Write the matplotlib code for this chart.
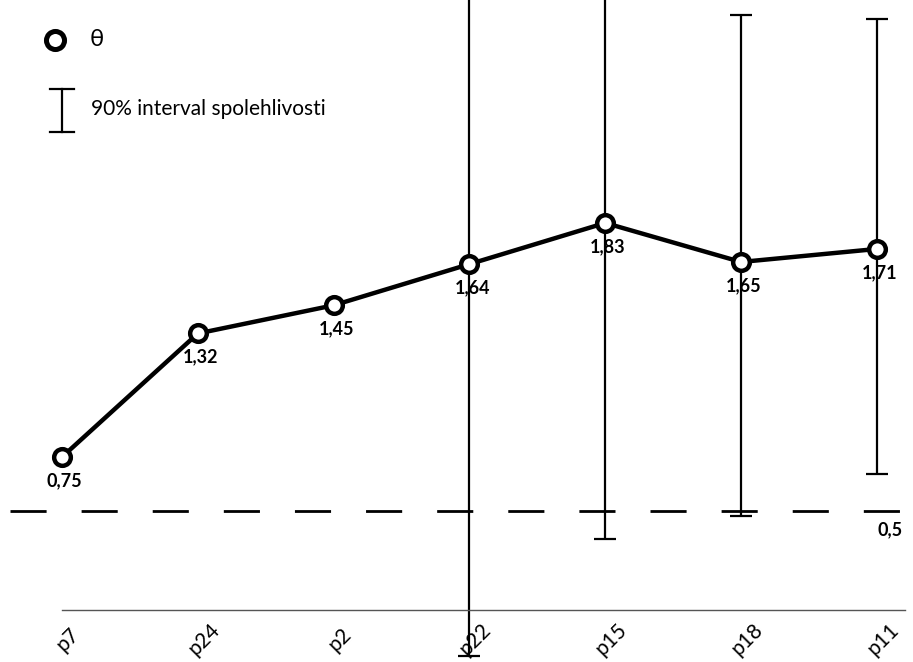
import matplotlib
matplotlib.use("Agg")
import matplotlib.pyplot as plt
import matplotlib.transforms as mtransforms

plt.rcParams['font.family'] = ['Lato', 'DejaVu Sans']

# data
items = ['p7', 'p24', 'p2', 'p22', 'p15', 'p18', 'p11']
theta = [0.75, 1.32, 1.45, 1.64, 1.83, 1.65, 1.71]
# 90% interval (only for the last four items)
ci_items = ['p22', 'p15', 'p18', 'p11']
ci_low = [-0.17, 0.37, 0.48, 0.67]
ci_high = [3.3, 3.3, 2.79, 2.77]
threshold = 0.5

W, H = 913, 662
fig = plt.figure(figsize=(W / 100, H / 100), dpi=100)
ax = fig.add_axes([0, 1 - 610 / H, 1, 610 / H])

x = list(range(len(items)))
ax.plot(x, theta, color='black', lw=3.2, zorder=3,
        marker='o', markersize=12, markerfacecolor='white',
        markeredgecolor='black', markeredgewidth=3.2)

ci_x = [items.index(c) for c in ci_items]
ci_mid = [theta[i] for i in ci_x]
err = [[m - lo for m, lo in zip(ci_mid, ci_low)],
       [hi - m for m, hi in zip(ci_mid, ci_high)]]
eb = ax.errorbar(ci_x, ci_mid, yerr=err, fmt='none', ecolor='black',
                 elinewidth=1.6, capsize=8, capthick=1.6, zorder=2)
for art in eb.get_children():
    art.set_clip_on(False)

ax.axhline(threshold, xmin=10 / W, xmax=910 / W, color='black', lw=2,
           linestyle=(0, (13, 12.6)), zorder=1)

for i, v in zip(x, theta):
    ax.annotate(f'{v:.2f}'.replace('.', ','), (i, v), xytext=(2, -17),
                textcoords='offset points', ha='center', va='center',
                fontsize=13, fontweight='bold')
ax.annotate(f'{threshold}'.replace('.', ','), (6.1, threshold),
            xytext=(0, -7), textcoords='offset points', ha='center',
            va='top', fontsize=13, fontweight='bold')

ax.set_xlim(-62 / 135.8, (W - 62) / 135.8)
ax.set_ylim(0.75 - (610 - 457) / 216.7, 0.75 + 457 / 216.7)

for s in ['top', 'left', 'right']:
    ax.spines[s].set_visible(False)
ax.spines['bottom'].set_color('#555555')
ax.spines['bottom'].set_linewidth(1)
ax.spines['bottom'].set_bounds(0, (905 - 62) / 135.8)
ax.set_yticks([])
ax.set_xticks(x)
ax.set_xticklabels(items, rotation=45, ha='center', va='center',
                   rotation_mode='anchor', fontsize=15)
ax.tick_params(axis='x', length=0, pad=21)
shift = mtransforms.ScaledTranslation(6 / 100, 0, fig.dpi_scale_trans)
for lab in ax.get_xticklabels():
    lab.set_transform(lab.get_transform() + shift)

# legend drawn by hand
def fy(py):
    return 1 - py / H

fig.lines.append(plt.Line2D([55 / W], [fy(40)], transform=fig.transFigure,
                            marker='o', markersize=13, markerfacecolor='white',
                            markeredgecolor='black', markeredgewidth=3.6))
fig.text(90 / W, fy(40), 'θ', fontsize=17, va='center', ha='left')
fig.lines.append(plt.Line2D([62 / W, 62 / W], [fy(89), fy(132)],
                            transform=fig.transFigure, color='black', lw=1.6))
for py in (89, 132):
    fig.lines.append(plt.Line2D([50 / W, 74 / W], [fy(py), fy(py)],
                                transform=fig.transFigure, color='black', lw=1.6))
fig.text(91 / W, fy(109), '90% interval spolehlivosti', fontsize=15,
         va='center', ha='left')

fig.savefig('out.png', dpi=100)
